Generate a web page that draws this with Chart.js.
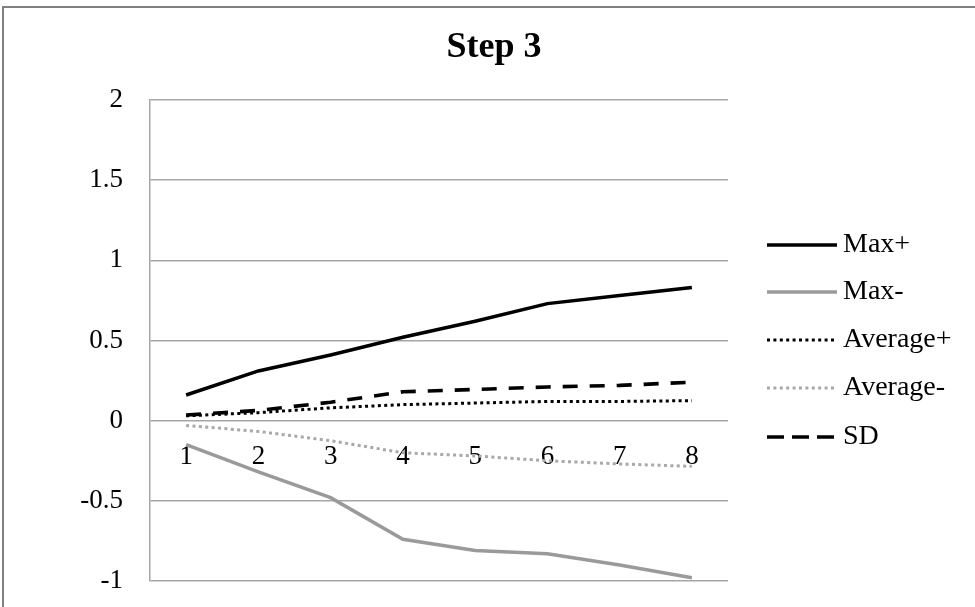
<!DOCTYPE html>
<html>
<head>
<meta charset="utf-8">
<script src="https://cdn.jsdelivr.net/npm/chart.js@4"></script>
<style>
  html, body { margin: 0; padding: 0; background: #fff; overflow: hidden; }
  #wrap { position: relative; width: 975px; height: 607px; overflow: hidden; }
  #frame { position: absolute; left: 2px; top: 6px; width: 1000px; height: 700px;
           border-top: 2px solid #808080; border-left: 2px solid #808080; pointer-events: none; }
  canvas { position: absolute; left: 0; top: 0; }
</style>
</head>
<body>
<div id="wrap">
  <canvas id="c" width="975" height="607"></canvas>
  <div id="frame"></div>
</div>
<script>
const chartTitle = "Step 3";
const categories = ["1", "2", "3", "4", "5", "6", "7", "8"];
const seriesNames = ["Max+", "Max-", "Average+", "Average-", "SD"];
const maxPlus  = [0.16, 0.31, 0.41, 0.52, 0.62, 0.73, 0.78, 0.83];
const maxMinus = [-0.15, -0.32, -0.48, -0.74, -0.81, -0.83, -0.90, -0.98];
const avgPlus  = [0.03, 0.05, 0.08, 0.10, 0.11, 0.12, 0.12, 0.125];
const avgMinus = [-0.03, -0.067, -0.125, -0.20, -0.22, -0.25, -0.27, -0.285];
const sdValues = [0.035, 0.064, 0.115, 0.18, 0.195, 0.21, 0.22, 0.24];
const yTicks = [-1, -0.5, 0, 0.5, 1, 1.5, 2];

const FONT = "'Liberation Serif', 'Times New Roman', serif";
const styles = [
  { color: '#000000', width: 3.5, dash: [] },
  { color: '#9a9a9a', width: 3.5, dash: [] },
  { color: '#000000', width: 3, dash: [3, 3.4] },
  { color: '#a8a8a8', width: 3, dash: [3, 3.4] },
  { color: '#000000', width: 3.6, dash: [15, 12] }
];
const seriesData = [maxPlus, maxMinus, avgPlus, avgMinus, sdValues];

const datasets = seriesNames.map((name, i) => ({
  label: name,
  data: seriesData[i],
  borderColor: styles[i].color,
  backgroundColor: styles[i].color,
  borderWidth: styles[i].width,
  borderDash: styles[i].dash,
  pointRadius: 0,
  pointHoverRadius: 0,
  tension: 0,
  fill: false
}));

const overlay = {
  id: 'overlay',
  afterDraw(chart) {
    const ctx = chart.ctx;
    ctx.save();
    // title
    ctx.fillStyle = '#000';
    ctx.font = "bold 36px " + FONT;
    ctx.textAlign = 'center';
    ctx.textBaseline = 'middle';
    ctx.fillText(chartTitle, 494, 48);
    // legend
    const ys = [245, 292, 340, 388, 437];
    ctx.font = "28px " + FONT;
    ctx.textAlign = 'left';
    chart.data.datasets.forEach((ds, i) => {
      const y = ys[i];
      ctx.beginPath();
      ctx.strokeStyle = ds.borderColor;
      ctx.lineWidth = ds.borderWidth;
      ctx.setLineDash(i === 4 ? [17, 8] : ds.borderDash);
      ctx.moveTo(767, y);
      ctx.lineTo(837, y);
      ctx.stroke();
      ctx.setLineDash([]);
      ctx.fillStyle = '#000';
      ctx.fillText(ds.label, 843, y);
    });
    ctx.restore();
  }
};

new Chart(document.getElementById('c'), {
  type: 'line',
  data: { labels: categories, datasets },
  options: {
    responsive: false,
    animation: false,
    layout: { padding: { top: 100, right: 247, bottom: 26, left: 0 } },
    plugins: { legend: { display: false }, title: { display: false }, tooltip: { enabled: false } },
    scales: {
      x: {
        type: 'category',
        position: { y: 0 },
        offset: true,
        afterFit(scale) { scale.height = 0; scale.paddingTop = 0; scale.paddingBottom = 0; },
        grid: { display: false, drawTicks: false },
        border: { display: false },
        ticks: { color: '#000', font: { family: FONT, size: 27 }, padding: 20, maxRotation: 0, autoSkip: false }
      },
      y: {
        min: -1, max: 2,
        afterFit(scale) { scale.width = 150; scale.paddingTop = 0; scale.paddingBottom = 0; },
        afterBuildTicks(scale) { scale.ticks = yTicks.map(v => ({ value: v })); },
        grid: { color: '#a6a6a6', lineWidth: 1.5, drawTicks: false },
        border: { display: true, color: '#a6a6a6', width: 1.5 },
        ticks: { color: '#000', font: { family: FONT, size: 27 }, padding: 27,
                 callback: v => String(v) }
      }
    }
  },
  plugins: [overlay]
});
</script>
</body>
</html>
